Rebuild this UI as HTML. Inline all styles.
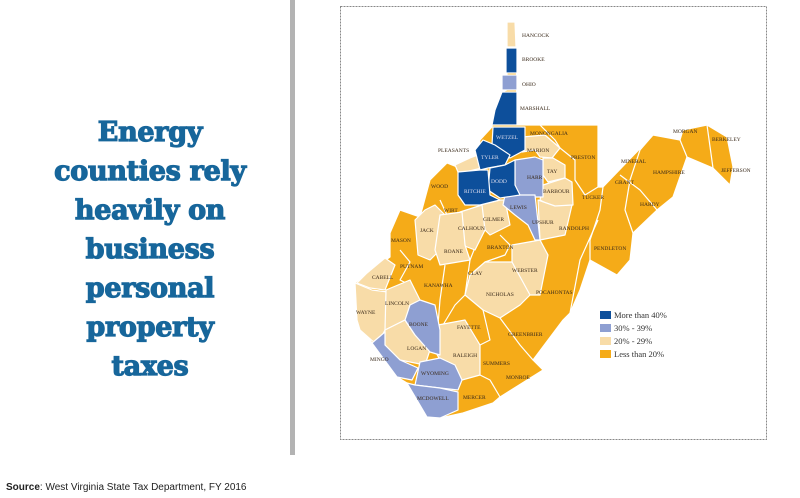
<!DOCTYPE html>
<html><head><meta charset="utf-8"><style>
html,body{margin:0;padding:0;background:#fff;width:800px;height:498px;overflow:hidden;position:relative}
#title{position:absolute;left:0;top:113px;width:300px;text-align:center;font-family:"DejaVu Serif","Liberation Serif",serif;font-weight:bold;font-size:27px;line-height:39px;color:#17669b;letter-spacing:-0.3px;-webkit-text-stroke:1.2px #17669b}
#bar{position:absolute;left:290px;top:0;width:5px;height:455px;background:#b3b3b3}
#src{position:absolute;left:6px;top:482px;font-family:"Liberation Sans",sans-serif;font-size:10px;color:#222}
svg{position:absolute;left:0;top:0}
text{font-family:"Liberation Serif",serif;font-size:5.5px;fill:#3a2a1a}
</style></head><body>
<div id="title">Energy<br>counties rely<br>heavily on<br>business<br>personal<br>property<br>taxes</div>
<div id="bar"></div>
<div id="src"><b>Source</b>: West Virginia State Tax Department, FY 2016</div>
<svg width="800" height="498">
<rect x="340.5" y="6.5" width="426" height="433" fill="none" stroke="#888" stroke-dasharray="2,1"/>
<g stroke="#fff" stroke-width="1.2" stroke-linejoin="round">
<polygon fill="#f5ab18" points="507,22 516,22 517,125 526,125 598,125 598,187 603,187 653,135 680,140 683,130 707,125 727,137 733,167 730,185 713,168 687,157 673,197 657,210 633,233 630,260 617,275 590,260 580,290 570,313 563,320 533,360 543,370 500,397 493,403 463,413 440,418 427,417 407,383 397,377 372,343 357,320 355,283 367,273 390,257 390,233 400,210 420,217 430,180 447,163 457,167 477,157 480,140 492,127 493,115 502,92 507,90"/>
<polyline fill="none" points="540,125 555,140 560,148 575,160 575,180 585,195 598,187" />
<polyline fill="none" points="603,187 600,210 590,240 590,260" />
<polyline fill="none" points="620,175 640,190 657,210" />
<polyline fill="none" points="598,220 580,260 570,313" />
<polyline fill="none" points="653,135 640,150 630,180 625,210 633,233" />
<polyline fill="none" points="680,140 687,157" />
<polyline fill="none" points="707,125 713,168" />
<polyline fill="none" points="400,250 410,262 400,280 410,285" />
<polyline fill="none" points="445,265 440,300 438,325" />
<polyline fill="none" points="465,295 455,305 440,330" />
<polyline fill="none" points="483,310 490,340 480,345" />
<polyline fill="none" points="500,318 520,345 533,360" />
<polyline fill="none" points="480,375 490,380 500,397" />
<polyline fill="none" points="480,235 470,260 465,295" />
<polyline fill="none" points="500,235 510,245 505,255 485,262" />
<polyline fill="none" points="440,200 447,215" />
</g>
<g stroke="#fff" stroke-width="1.2" stroke-linejoin="round" fill="#f8dca8">
<polygon points="507,22 515,22 516,47 507,47"/>
<polygon points="455,165 470,158 478,155 482,168 465,172 458,172"/>
<polygon points="522,137 545,135 560,148 552,158 540,157 535,150 522,152"/>
<polygon points="543,158 553,158 565,165 565,178 548,182 543,175"/>
<polygon points="543,185 565,178 572,182 573,205 555,208 540,200"/>
<polygon points="538,200 555,206 572,205 565,235 540,240"/>
<polygon points="480,205 500,200 505,200 510,225 490,235 480,225"/>
<polygon points="460,212 482,205 485,230 475,250 462,245"/>
<polygon points="415,220 425,210 435,205 445,215 440,250 430,260 418,255"/>
<polygon points="440,215 462,212 465,245 470,260 440,265 435,250"/>
<polygon points="512,245 540,240 548,255 540,295 525,295 512,262"/>
<polygon points="485,262 512,262 530,295 520,305 500,318 483,310 465,295 470,275"/>
<polygon points="357,283 367,273 385,258 395,265 385,290 370,288"/>
<polygon points="355,283 372,290 388,292 385,330 377,345 360,330 357,320"/>
<polygon points="386,290 410,280 420,300 415,310 405,320 385,330"/>
<polygon points="385,330 405,320 415,335 430,350 425,365 400,360 385,345"/>
<polygon points="438,325 465,320 480,345 480,375 462,380 440,360 432,345"/>
</g>
<g stroke="#fff" stroke-width="1.2" stroke-linejoin="round" fill="#8e9fd2">
<polygon points="502,75 517,75 517,90 502,90"/>
<polygon points="515,160 535,157 543,160 543,197 520,197 515,185"/>
<polygon points="505,195 535,195 540,240 535,240 528,225 515,215 503,205"/>
<polygon points="410,305 420,300 435,305 440,330 440,355 430,352 415,335 405,320"/>
<polygon points="372,343 385,332 385,345 400,360 418,368 412,380 397,377"/>
<polygon points="420,362 440,358 455,365 462,380 458,390 440,388 415,385"/>
<polygon points="407,383 415,385 440,388 458,392 458,410 440,418 427,417"/>
</g>
<g stroke="#fff" stroke-width="1.2" stroke-linejoin="round" fill="#0d4f9b">
<polygon points="506,48 517,48 517,73 506,73"/>
<polygon points="492,125 495,110 502,92 517,92 517,125"/>
<polygon points="493,127 525,127 525,150 510,158 492,145"/>
<polygon points="475,150 483,140 495,145 510,155 505,165 488,168 480,170"/>
<polygon points="490,168 505,165 515,160 515,185 520,195 500,198 488,190"/>
<polygon points="458,172 480,170 488,170 490,195 500,200 480,205 465,205 458,195"/>
</g>
<g>
<text x="522" y="37">HANCOCK</text><text x="522" y="61">BROOKE</text><text x="522" y="86">OHIO</text><text x="520" y="110">MARSHALL</text>
<text x="530" y="135">MONONGALIA</text><text x="496" y="139" style="fill:#dde">WETZEL</text><text x="438" y="152">PLEASANTS</text>
<text x="481" y="159" style="fill:#dde">TYLER</text><text x="527" y="152">MARION</text><text x="571" y="159">PRESTON</text>
<text x="547" y="173">TAY</text><text x="527" y="179">HARR</text><text x="491" y="183" style="fill:#dde">DODD</text>
<text x="464" y="193" style="fill:#dde">RITCHIE</text><text x="431" y="188">WOOD</text><text x="543" y="193">BARBOUR</text>
<text x="582" y="199">TUCKER</text><text x="621" y="163">MINERAL</text><text x="653" y="174">HAMPSHIRE</text>
<text x="615" y="184">GRANT</text><text x="640" y="206">HARDY</text><text x="673" y="133">MORGAN</text>
<text x="712" y="141">BERKELEY</text><text x="721" y="172">JEFFERSON</text><text x="510" y="209">LEWIS</text>
<text x="444" y="212">WIRT</text><text x="483" y="221">GILMER</text><text x="532" y="224">UPSHUR</text>
<text x="458" y="230">CALHOUN</text><text x="420" y="232">JACK</text><text x="559" y="230">RANDOLPH</text>
<text x="444" y="253">ROANE</text><text x="487" y="249">BRAXTON</text><text x="594" y="250">PENDLETON</text>
<text x="391" y="242">MASON</text><text x="400" y="268">PUTNAM</text><text x="372" y="279">CABELL</text>
<text x="512" y="272">WEBSTER</text><text x="468" y="275">CLAY</text><text x="424" y="287">KANAWHA</text>
<text x="486" y="296">NICHOLAS</text><text x="536" y="294">POCAHONTAS</text><text x="385" y="305">LINCOLN</text>
<text x="356" y="314">WAYNE</text><text x="409" y="326">BOONE</text><text x="457" y="329">FAYETTE</text>
<text x="508" y="336">GREENBRIER</text><text x="407" y="350">LOGAN</text><text x="453" y="357">RALEIGH</text>
<text x="370" y="361">MINGO</text><text x="483" y="365">SUMMERS</text><text x="421" y="375">WYOMING</text>
<text x="506" y="379">MONROE</text><text x="417" y="400">MCDOWELL</text><text x="463" y="399">MERCER</text>
</g>
<g>
<rect x="600" y="311" width="11" height="8" fill="#0d4f9b"/><text x="614" y="318" style="font-size:8.5px;fill:#333">More than 40%</text>
<rect x="600" y="324" width="11" height="8" fill="#8e9fd2"/><text x="614" y="331" style="font-size:8.5px;fill:#333">30% - 39%</text>
<rect x="600" y="337" width="11" height="8" fill="#f8dca8"/><text x="614" y="344" style="font-size:8.5px;fill:#333">20% - 29%</text>
<rect x="600" y="350" width="11" height="8" fill="#f5ab18"/><text x="614" y="357" style="font-size:8.5px;fill:#333">Less than 20%</text>
</g>
</svg>
</body></html>
